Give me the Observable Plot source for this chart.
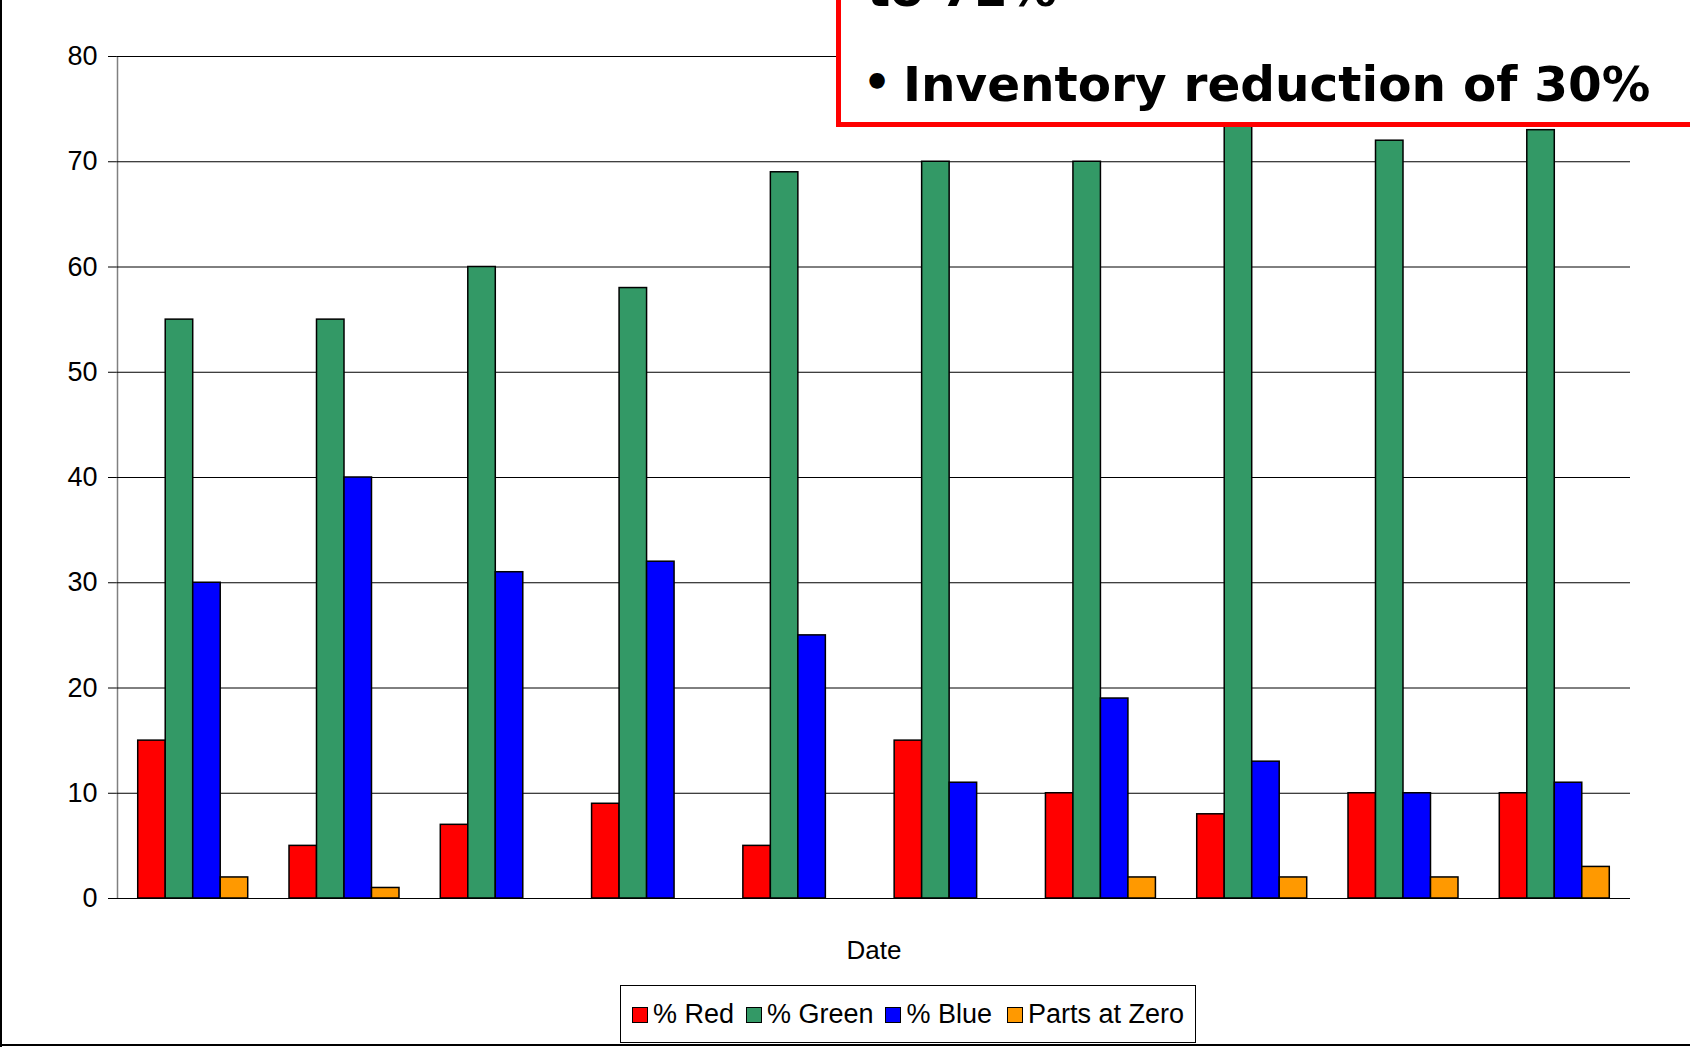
<!DOCTYPE html>
<html>
<head>
<meta charset="utf-8">
<script src="https://cdn.jsdelivr.net/npm/d3@7"></script>
<script src="https://cdn.jsdelivr.net/npm/@observablehq/plot@0.6"></script>
<style>
  html, body { margin: 0; padding: 0; background: #fff; }
  #wrap { position: relative; width: 1690px; height: 1047px; overflow: hidden; background: #fff;
          font-family: "Liberation Sans", Arial, sans-serif; }
  #grid, #bars { position: absolute; left: 0; top: 0; }
  #frameL { position: absolute; left: 0; top: 0; width: 2px; height: 1047px; background: #000; }
  #frameB { position: absolute; left: 0; top: 1044px; width: 1690px; height: 2px; background: #000; }
  #callout { position: absolute; left: 836px; top: -60px; width: 900px; height: 187px; box-sizing: border-box;
             border: 5px solid #ff0000; background: #fff; }
  .big { position: absolute; font-family: "DejaVu Sans", Verdana, sans-serif; font-weight: bold;
         font-size: 48.5px; line-height: 48px; white-space: nowrap; color: #000; }
  #legend { position: absolute; left: 620px; top: 985px; width: 576px; height: 58px; box-sizing: border-box;
            border: 1px solid #000; background: #fff; display: flex; justify-content: center; align-items: center;
            font-size: 27px; color: #000; }
  .item { display: flex; align-items: baseline; margin: 0 6px; white-space: nowrap; }
  .item:last-child { margin-left: 9px; }
  .sw { display: inline-block; width: 16px; height: 16px; box-sizing: border-box; border: 1.5px solid #000;
        margin-right: 5px; }
</style>
</head>
<body>
<div id="wrap">
  <div id="grid"></div>
  <div id="bars"></div>
  <div id="frameL"></div>
  <div id="frameB"></div>
  <div id="callout"></div>
  <div class="big" style="left:867px; top:-35px;">to 72%</div>
  <div class="big" style="left:863px; top:60px; font-size:44px; line-height:44px;">•</div>
  <div class="big" style="left:903px; top:60px;">Inventory reduction of 30%</div>
  <div id="legend"></div>
</div>
<script>
// ---- data ----
const dates = ["D1", "D2", "D3", "D4", "D5", "D6", "D7", "D8", "D9", "D10"];
const series = ["% Red", "% Green", "% Blue", "Parts at Zero"];
const colors = ["#ff0000", "#339966", "#0000ff", "#ff9900"];
const red    = [15, 5, 7, 9, 5, 15, 10, 8, 10, 10];
const green  = [55, 55, 60, 58, 69, 70, 70, 75, 72, 73];
const blue   = [30, 40, 31, 32, 25, 11, 19, 13, 10, 11];
const zero   = [2, 1, 0, 0, 0, 0, 2, 2, 2, 3];
const yTicks = [0, 10, 20, 30, 40, 50, 60, 70, 80];
const xLabel = "Date";

const valuesBySeries = [red, green, blue, zero];
const rows = [];
dates.forEach((d, i) => {
  series.forEach((s, j) => {
    const v = valuesBySeries[j][i];
    if (v > 0) rows.push({date: d, series: s, value: v});
  });
});

const W = 1690, H = 985;
const margins = {marginLeft: 117, marginRight: 60, marginTop: 56, marginBottom: 87};
const font = {fontSize: "27px", fontFamily: '"Liberation Sans", Arial, sans-serif', color: "#000", background: "transparent"};

// background: grid, y axis, x label
const grid = Plot.plot({
  width: W, height: H, ...margins,
  style: font,
  x: {domain: [0, 1], axis: null},
  y: {domain: [0, 80], ticks: yTicks, tickSize: 9, tickPadding: 11, label: null},
  marks: [
    Plot.ruleX([0], {y1: 0, y2: 80, stroke: "#808080", strokeWidth: 1.5}),
    Plot.ruleY(yTicks, {stroke: "#000", strokeWidth: 1}),
    Plot.text([xLabel], {frameAnchor: "bottom", dy: 60, fontSize: 26, fill: "#000"})
  ]
});
document.getElementById("grid").appendChild(grid);

// bars, grouped by date via facets
const bars = Plot.plot({
  width: W, height: H, ...margins,
  style: font,
  facet: {data: rows, x: "date"},
  fx: {domain: dates, paddingInner: 0.273, paddingOuter: 0.137, round: false, axis: null, label: null},
  x: {domain: series, padding: 0, round: false, axis: null},
  y: {domain: [0, 80], axis: null},
  color: {domain: series, range: colors},
  marks: [
    Plot.barY(rows, {x: "series", y: "value", fill: "series", stroke: "#000", strokeWidth: 1.5})
  ]
});
document.getElementById("bars").appendChild(bars);

// legend
const lg = document.getElementById("legend");
series.forEach((s, j) => {
  const it = document.createElement("div");
  it.className = "item";
  const sw = document.createElement("span");
  sw.className = "sw";
  sw.style.background = colors[j];
  const tx = document.createElement("span");
  tx.textContent = s;
  it.appendChild(sw); it.appendChild(tx);
  lg.appendChild(it);
});
</script>
</body>
</html>
